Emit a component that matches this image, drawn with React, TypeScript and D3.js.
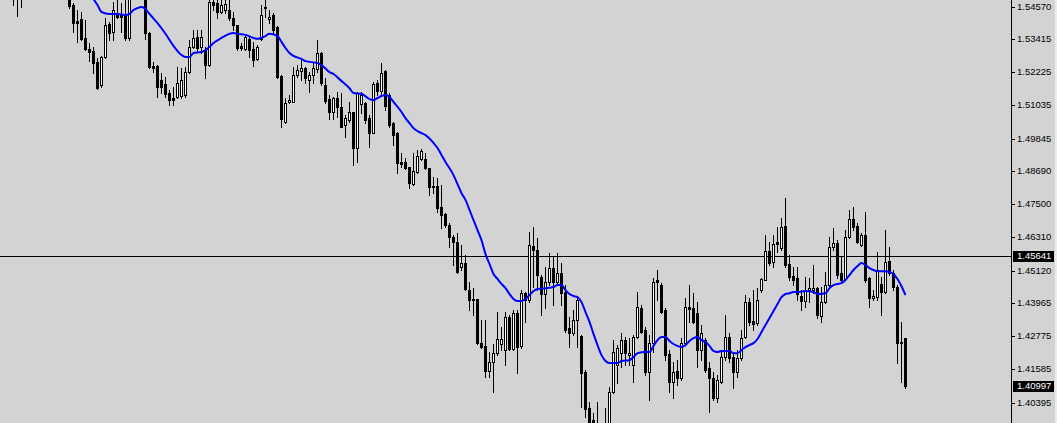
import React from 'react';
import * as d3 from 'd3';

const W = 1057;
const H = 423;
const AXIS_X = 1011;

// OHLC per bar (bar index 0..223); null = bar outside visible price range
const OPEN = [
  1.5517, 1.5510, 1.5502, null, null, null, null, null, null, null,
  null, null, null, null, 1.5499, 1.5463, 1.5405, 1.5412, 1.5345, 1.5306,
  1.5299, 1.5259, 1.5176, 1.5277, 1.5395, 1.5367, 1.5431, 1.5431, 1.5427, 1.5345,
  null, null, null, 1.5499, 1.5363, 1.5245, 1.5245, 1.5194, 1.5180, 1.5148,
  1.5130, 1.5134, 1.5137, 1.5141, 1.5223, 1.5313, 1.5349, 1.5313, 1.5302, 1.5248,
  1.5474, 1.5470, 1.5438, 1.5445, 1.5445, 1.5416, 1.5392, 1.5317, 1.5306, 1.5342,
  1.5306, 1.5270, 1.5342, 1.5456, 1.5413, 1.5427, 1.5384, 1.5208, 1.5044, 1.5116,
  1.5116, 1.5212, 1.5226, 1.5237, 1.5194, 1.5212, 1.5234, 1.5291, 1.5176, 1.5126,
  1.5080, 1.5130, 1.5098, 1.5033, 1.5051, 1.5080, 1.4951, 1.5109, 1.5112, 1.5058,
  1.5004, 1.5183, 1.5155, 1.5226, 1.5141, 1.5040, 1.5004, 1.4901, 1.4901, 1.4883,
  1.4822, 1.4865, 1.4912, 1.4912, 1.4879, 1.4815, 1.4815, 1.4740, 1.4715, 1.4675,
  1.4632, 1.4614, 1.4525, 1.4539, 1.4442, 1.4410, 1.4410, 1.4253, 1.4242, 1.4152,
  1.4184, 1.4216, 1.4249, 1.4227, 1.4346, 1.4231, 1.4360, 1.4242, 1.4432, 1.4406,
  1.4600, 1.4586, 1.4489, 1.4428, 1.4471, 1.4521, 1.4471, 1.4503, 1.4435, 1.4306,
  1.4288, 1.4335, 1.4278, 1.4149, 1.4019, 1.3977, 1.3959, 1.3923, 1.3934, 1.3941,
  1.4077, 1.4173, 1.4216, 1.4263, 1.4209, 1.4173, 1.4274, 1.4378, 1.4299, 1.4149,
  1.4253, 1.4478, 1.4460, 1.4371, 1.4213, 1.4113, 1.4152, 1.4127, 1.4253, 1.4381,
  1.4378, 1.4360, 1.4227, 1.4263, 1.4163, 1.4127, 1.4055, 1.4113, 1.4202, 1.4274,
  1.4202, 1.4149, 1.4198, 1.4274, 1.4399, 1.4331, 1.4324, 1.4442, 1.4478, 1.4582,
  1.4543, 1.4614, 1.4593, 1.4671, 1.4536, 1.4492, 1.4485, 1.4421, 1.4403, 1.4442,
  1.4442, 1.4449, 1.4349, 1.4399, 1.4460, 1.4596, 1.4611, 1.4503, 1.4482, 1.4632,
  1.4697, 1.4671, 1.4603, 1.4639, 1.4485, 1.4414, 1.4417, 1.4464, 1.4435, 1.4546,
  1.4503, 1.4453, 1.4256, 1.4270,
];

const HIGH = [
  1.5553, 1.5535, 1.5524, null, null, null, null, null, null, null,
  null, null, null, null, 1.5517, 1.5470, 1.5445, 1.5438, 1.5409, 1.5327,
  1.5313, 1.5273, 1.5281, 1.5416, 1.5402, 1.5474, 1.5481, 1.5470, 1.5481, 1.5499,
  null, null, null, 1.5517, 1.5367, 1.5259, 1.5248, 1.5219, 1.5205, 1.5159,
  1.5169, 1.5241, 1.5237, 1.5241, 1.5338, 1.5374, 1.5374, 1.5374, 1.5313, 1.5481,
  1.5492, 1.5481, 1.5481, 1.5481, 1.5481, 1.5438, 1.5392, 1.5327, 1.5356, 1.5349,
  1.5331, 1.5320, 1.5463, 1.5481, 1.5445, 1.5434, 1.5388, 1.5212, 1.5130, 1.5141,
  1.5241, 1.5248, 1.5266, 1.5241, 1.5223, 1.5255, 1.5338, 1.5295, 1.5201, 1.5141,
  1.5134, 1.5152, 1.5148, 1.5069, 1.5116, 1.5080, 1.5152, 1.5152, 1.5116, 1.5069,
  1.5187, 1.5194, 1.5255, 1.5230, 1.5148, 1.5044, 1.5008, 1.4933, 1.4915, 1.4883,
  1.4933, 1.4944, 1.4947, 1.4933, 1.4879, 1.4847, 1.4843, 1.4818, 1.4718, 1.4682,
  1.4639, 1.4646, 1.4604, 1.4568, 1.4471, 1.4449, 1.4410, 1.4335, 1.4335, 1.4220,
  1.4249, 1.4363, 1.4310, 1.4363, 1.4353, 1.4371, 1.4371, 1.4442, 1.4435, 1.4650,
  1.4668, 1.4629, 1.4496, 1.4525, 1.4575, 1.4561, 1.4575, 1.4539, 1.4460, 1.4346,
  1.4371, 1.4417, 1.4281, 1.4156, 1.4041, 1.4002, 1.4041, 1.3959, 1.4019, 1.4095,
  1.4263, 1.4245, 1.4288, 1.4274, 1.4270, 1.4281, 1.4435, 1.4389, 1.4310, 1.4281,
  1.4485, 1.4514, 1.4467, 1.4378, 1.4227, 1.4184, 1.4191, 1.4270, 1.4414, 1.4460,
  1.4432, 1.4399, 1.4317, 1.4270, 1.4184, 1.4149, 1.4138, 1.4220, 1.4353, 1.4288,
  1.4216, 1.4227, 1.4299, 1.4424, 1.4414, 1.4442, 1.4449, 1.4485, 1.4639, 1.4614,
  1.4639, 1.4668, 1.4700, 1.4772, 1.4568, 1.4525, 1.4525, 1.4442, 1.4489, 1.4485,
  1.4532, 1.4453, 1.4453, 1.4507, 1.4632, 1.4664, 1.4621, 1.4561, 1.4657, 1.4729,
  1.4740, 1.4682, 1.4646, 1.4722, 1.4489, 1.4442, 1.4579, 1.4489, 1.4657, 1.4596,
  1.4514, 1.4460, 1.4328, 1.4270,
];

const LOW = [
  1.5463, 1.5424, 1.5456, null, null, null, null, null, null, null,
  null, null, null, null, 1.5452, 1.5367, 1.5331, 1.5338, 1.5302, 1.5262,
  1.5219, 1.5162, 1.5169, 1.5273, 1.5338, 1.5338, 1.5416, 1.5367, 1.5338, 1.5338,
  null, null, null, 1.5342, 1.5237, 1.5223, 1.5134, 1.5148, 1.5134, 1.5105,
  1.5105, 1.5130, 1.5130, 1.5134, 1.5219, 1.5309, 1.5295, 1.5291, 1.5201, 1.5245,
  1.5445, 1.5416, 1.5434, 1.5434, 1.5409, 1.5374, 1.5302, 1.5302, 1.5302, 1.5277,
  1.5245, 1.5266, 1.5338, 1.5420, 1.5398, 1.5363, 1.5201, 1.5026, 1.5040, 1.5112,
  1.5116, 1.5205, 1.5194, 1.5183, 1.5152, 1.5183, 1.5223, 1.5176, 1.5112, 1.5054,
  1.5054, 1.5062, 1.5026, 1.4990, 1.5044, 1.4890, 1.4901, 1.5076, 1.5040, 1.4955,
  1.5004, 1.5141, 1.5141, 1.5087, 1.5026, 1.4962, 1.4862, 1.4883, 1.4876, 1.4808,
  1.4818, 1.4861, 1.4908, 1.4876, 1.4782, 1.4789, 1.4722, 1.4664, 1.4668, 1.4596,
  1.4532, 1.4503, 1.4514, 1.4442, 1.4371, 1.4353, 1.4249, 1.4234, 1.4131, 1.4131,
  1.4077, 1.4209, 1.4227, 1.4173, 1.4227, 1.4227, 1.4145, 1.4234, 1.4328, 1.4399,
  1.4453, 1.4442, 1.4353, 1.4378, 1.4460, 1.4388, 1.4467, 1.4388, 1.4292, 1.4238,
  1.4281, 1.4238, 1.4023, 1.3987, 1.3934, 1.3905, 1.3905, 1.3887, 1.3905, 1.3923,
  1.4073, 1.4109, 1.4166, 1.4173, 1.4173, 1.4113, 1.4270, 1.4288, 1.4138, 1.4048,
  1.4220, 1.4406, 1.4360, 1.4191, 1.4077, 1.4055, 1.4102, 1.4120, 1.4245, 1.4328,
  1.4324, 1.4166, 1.4191, 1.4149, 1.4005, 1.4048, 1.4041, 1.4109, 1.4191, 1.4184,
  1.4091, 1.4131, 1.4191, 1.4270, 1.4317, 1.4299, 1.4317, 1.4435, 1.4478, 1.4532,
  1.4525, 1.4579, 1.4586, 1.4525, 1.4478, 1.4460, 1.4406, 1.4371, 1.4381, 1.4399,
  1.4431, 1.4342, 1.4328, 1.4396, 1.4453, 1.4586, 1.4485, 1.4471, 1.4478, 1.4629,
  1.4657, 1.4611, 1.4600, 1.4471, 1.4381, 1.4406, 1.4406, 1.4353, 1.4431, 1.4496,
  1.4442, 1.4181, 1.4113, 1.4091,
];

const CLOSE = [
  1.5499, 1.5488, 1.5492, null, null, null, null, null, null, null,
  null, null, null, null, 1.5460, 1.5398, 1.5398, 1.5342, 1.5306, 1.5295,
  1.5255, 1.5165, 1.5277, 1.5392, 1.5363, 1.5445, 1.5420, 1.5420, 1.5345, 1.5488,
  null, null, null, 1.5363, 1.5241, 1.5237, 1.5169, 1.5169, 1.5145, 1.5123,
  1.5123, 1.5183, 1.5194, 1.5223, 1.5313, 1.5345, 1.5309, 1.5349, 1.5248, 1.5474,
  1.5463, 1.5438, 1.5463, 1.5467, 1.5416, 1.5392, 1.5309, 1.5309, 1.5349, 1.5302,
  1.5266, 1.5313, 1.5427, 1.5452, 1.5420, 1.5374, 1.5205, 1.5054, 1.5112, 1.5123,
  1.5212, 1.5230, 1.5237, 1.5201, 1.5212, 1.5237, 1.5291, 1.5183, 1.5119, 1.5080,
  1.5130, 1.5098, 1.5026, 1.5058, 1.5080, 1.4951, 1.5148, 1.5141, 1.5051, 1.5004,
  1.5180, 1.5155, 1.5219, 1.5101, 1.5033, 1.4997, 1.4897, 1.4894, 1.4879, 1.4826,
  1.4868, 1.4922, 1.4940, 1.4879, 1.4811, 1.4811, 1.4736, 1.4711, 1.4675, 1.4632,
  1.4614, 1.4507, 1.4539, 1.4446, 1.4406, 1.4406, 1.4253, 1.4238, 1.4152, 1.4184,
  1.4216, 1.4266, 1.4266, 1.4346, 1.4231, 1.4360, 1.4238, 1.4432, 1.4406, 1.4603,
  1.4586, 1.4496, 1.4428, 1.4471, 1.4521, 1.4471, 1.4503, 1.4432, 1.4299, 1.4288,
  1.4335, 1.4406, 1.4145, 1.4016, 1.3948, 1.3941, 1.3923, 1.3941, 1.3959, 1.4077,
  1.4220, 1.4234, 1.4263, 1.4216, 1.4216, 1.4274, 1.4381, 1.4292, 1.4149, 1.4253,
  1.4471, 1.4471, 1.4363, 1.4209, 1.4113, 1.4149, 1.4127, 1.4253, 1.4381, 1.4374,
  1.4328, 1.4227, 1.4288, 1.4156, 1.4127, 1.4055, 1.4120, 1.4202, 1.4274, 1.4198,
  1.4149, 1.4198, 1.4270, 1.4399, 1.4328, 1.4320, 1.4406, 1.4482, 1.4582, 1.4539,
  1.4607, 1.4607, 1.4668, 1.4532, 1.4489, 1.4478, 1.4428, 1.4403, 1.4442, 1.4449,
  1.4449, 1.4353, 1.4399, 1.4460, 1.4596, 1.4611, 1.4496, 1.4478, 1.4632, 1.4697,
  1.4668, 1.4614, 1.4639, 1.4478, 1.4414, 1.4421, 1.4514, 1.4435, 1.4543, 1.4503,
  1.4453, 1.4253, 1.4253, 1.40997,
];

// Moving average line (bar index, value)
const MA_BAR = [
  19, 20, 21, 22, 24, 26, 28, 29, 30, 31, 32, 33, 34, 36, 38, 40, 42, 43, 44, 45,
  47, 49, 50, 52, 54, 55, 56, 58, 60, 61, 62, 63, 64, 66, 67, 68, 69, 70, 72, 73,
  76, 77, 79, 80, 82, 84, 85, 87, 89, 90, 91, 92, 93, 94, 95, 97, 98, 99, 100, 102,
  103, 105, 106, 107, 108, 110, 111, 112, 113, 114, 115, 116, 117, 118, 119, 120, 121, 122, 123, 124,
  125, 126, 127, 128, 129, 130, 131, 133, 135, 136, 137, 138, 139, 140, 141, 142, 143, 144, 145, 146,
  147, 148, 149, 151, 152, 154, 155, 156, 158, 159, 160, 161, 162, 163, 164, 165, 166, 167, 168, 169,
  170, 171, 172, 173, 174, 175, 176, 177, 179, 180, 181, 182, 183, 184, 185, 186, 187, 188, 189, 190,
  191, 192, 193, 194, 195, 196, 198, 200, 201, 203, 204, 205, 206, 207, 208, 209, 210, 211, 212, 213,
  214, 215, 216, 218, 219, 220, 221, 222, 223,
];
const MA_VALUE = [
  1.5510, 1.5485, 1.5463, 1.5438, 1.5431, 1.5431, 1.5427, 1.5431, 1.5445, 1.5452, 1.5456, 1.5449, 1.5431, 1.5398, 1.5360, 1.5317, 1.5284, 1.5277, 1.5277, 1.5291,
  1.5295, 1.5313, 1.5327, 1.5345, 1.5360, 1.5363, 1.5360, 1.5356, 1.5345, 1.5342, 1.5345, 1.5352, 1.5360, 1.5352, 1.5331, 1.5309, 1.5291, 1.5281, 1.5270, 1.5262,
  1.5255, 1.5248, 1.5223, 1.5216, 1.5191, 1.5165, 1.5148, 1.5145, 1.5126, 1.5123, 1.5130, 1.5137, 1.5141, 1.5134, 1.5116, 1.5080, 1.5058, 1.5040, 1.5022, 1.5004,
  1.4997, 1.4969, 1.4951, 1.4926, 1.4901, 1.4854, 1.4822, 1.4789, 1.4765, 1.4729, 1.4693, 1.4657, 1.4621, 1.4571, 1.4536, 1.4500, 1.4482, 1.4464, 1.4449, 1.4428,
  1.4410, 1.4403, 1.4403, 1.4410, 1.4424, 1.4439, 1.4446, 1.4449, 1.4453, 1.4460, 1.4460, 1.4442, 1.4428, 1.4421, 1.4417, 1.4399, 1.4363, 1.4328, 1.4285, 1.4245,
  1.4209, 1.4188, 1.4181, 1.4181, 1.4188, 1.4191, 1.4202, 1.4216, 1.4220, 1.4220, 1.4242, 1.4263, 1.4274, 1.4274, 1.4260, 1.4249, 1.4242, 1.4238, 1.4245, 1.4260,
  1.4270, 1.4274, 1.4263, 1.4256, 1.4242, 1.4224, 1.4220, 1.4224, 1.4224, 1.4216, 1.4216, 1.4227, 1.4238, 1.4245, 1.4252, 1.4267, 1.4292, 1.4317, 1.4342, 1.4367,
  1.4392, 1.4417, 1.4428, 1.4431, 1.4435, 1.4435, 1.4439, 1.4435, 1.4428, 1.4431, 1.4449, 1.4460, 1.4464, 1.4467, 1.4478, 1.4496, 1.4514, 1.4528, 1.4539, 1.4532,
  1.4521, 1.4514, 1.4510, 1.4510, 1.4507, 1.4500, 1.4482, 1.4456, 1.4424,
];

const PRICE_TICKS = [1.5457, 1.53415, 1.52225, 1.51035, 1.49845, 1.4869, 1.475, 1.4631, 1.4512, 1.43965, 1.42775, 1.41585, 1.40395];
const BID_PRICE = 1.45641;
const LAST_PRICE = 1.40997;

const BG = '#D3D3D3';
const FONT = '"Liberation Sans", Arial, sans-serif';
const FS = 9.5;

export default function App() {
  const n = OPEN.length;
  const x = d3.scaleLinear().domain([0, n - 1]).range([13, 905]);
  const y = d3.scaleLinear().domain([1.40395, 1.5457]).range([402.5, 6.7]);

  const candles = [];
  for (let i = 0; i < n; i++) {
    const o = OPEN[i], h = HIGH[i], l = LOW[i], c = CLOSE[i];
    if (o == null || h == null || l == null || c == null) continue;
    const cx = Math.round(x(i));
    const yH = Math.round(y(h));
    const yL = Math.round(y(l));
    const yO = Math.round(y(o));
    const yC = Math.round(y(c));
    const top = Math.min(yO, yC);
    const bot = Math.max(yO, yC);
    const bull = c > o;
    candles.push(
      <g key={i}>
        <rect x={cx} y={yH} width={1} height={yL - yH + 1} fill="#000" />
        <rect x={cx - 1} y={top} width={3} height={bot - top + 1} fill="#000" />
        {bull && bot - top > 1 ? (
          <rect x={cx} y={top + 1} width={1} height={bot - top - 1} fill="#fff" />
        ) : null}
      </g>
    );
  }

  const maPoints = MA_BAR.map((b, k) => [x(b) + 0.5, y(MA_VALUE[k])] as [number, number]);
  const maPath = d3.line().curve(d3.curveMonotoneX)(maPoints) || '';

  const bidY = Math.round(y(BID_PRICE)) + 0.5;
  const lastY = Math.round(y(LAST_PRICE));
  const bidYr = Math.round(y(BID_PRICE));

  return (
    <div style={{ position: 'absolute', left: 0, top: 0, width: W, height: H }}>
      <style>{`body{margin:0}`}</style>
      <svg width={W} height={H} style={{ display: 'block' }} shapeRendering="crispEdges">
        <defs>
          <clipPath id="plot">
            <rect x={0} y={0} width={AXIS_X} height={H} />
          </clipPath>
        </defs>
        <rect x={0} y={0} width={W} height={H} fill={BG} />
        <g clipPath="url(#plot)">
          <line x1={0} x2={AXIS_X} y1={bidY} y2={bidY} stroke="#000" strokeWidth={1} />
          {candles}
          <path d={maPath} fill="none" stroke="#0000FF" strokeWidth={2} shapeRendering="auto" />
        </g>
        <line x1={AXIS_X + 0.5} x2={AXIS_X + 0.5} y1={0} y2={H} stroke="#000" strokeWidth={1} />
        {PRICE_TICKS.map((t) => {
          const ty = Math.round(y(t));
          return (
            <g key={t}>
              <line x1={AXIS_X} x2={AXIS_X + 4} y1={ty + 0.5} y2={ty + 0.5} stroke="#000" />
              <text x={1017} y={ty} dy="0.35em" fontFamily={FONT} fontSize={FS} fill="#000">
                {t.toFixed(5)}
              </text>
            </g>
          );
        })}
        <rect x={1013} y={bidYr - 5} width={41} height={11} fill="#000" />
        <text x={1017} y={bidYr} dy="0.35em" fontFamily={FONT} fontSize={FS} fill="#fff">
          {BID_PRICE.toFixed(5)}
        </text>
        <rect x={1013} y={lastY - 5} width={41} height={11} fill="#000" />
        <text x={1017} y={lastY} dy="0.35em" fontFamily={FONT} fontSize={FS} fill="#fff">
          {LAST_PRICE.toFixed(5)}
        </text>
        <rect x={1055} y={0} width={2} height={H} fill="#EBEBEB" />
      </svg>
    </div>
  );
}
